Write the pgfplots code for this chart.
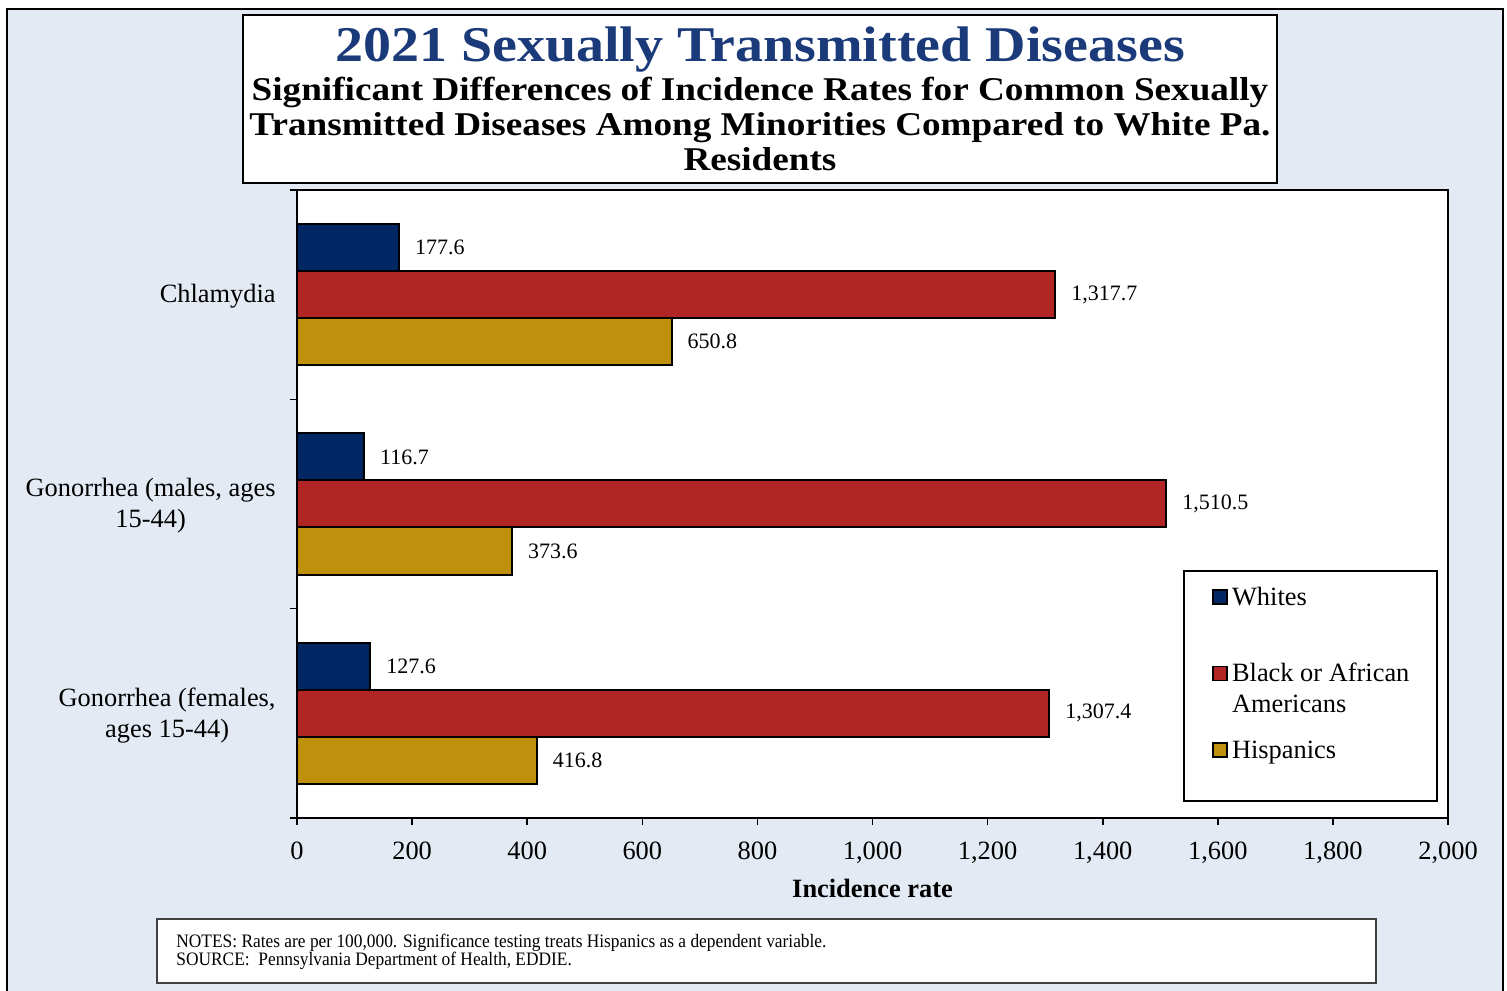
\documentclass[border=0pt]{standalone}
\usepackage{fontspec}
\setmainfont{Liberation Serif}
\newfontfamily\titlefont[FakeStretch=1.12]{Liberation Serif}
\newfontfamily\notefont[FakeStretch=0.914]{Liberation Serif}
\usepackage{pgfplots}
\pgfplotsset{compat=1.18}
\definecolor{bg}{HTML}{E4EAF4}
\definecolor{cwhite}{HTML}{002664}
\definecolor{cblack}{HTML}{B22525}
\definecolor{chisp}{HTML}{BF900B}
\definecolor{ctitle}{HTML}{1B3A7A}
\pgfplotsset{myleg/.style={legend image code/.code={\path (0pt,0pt) (7pt,0pt);\draw[##1,line width=0.8pt,overlay] (0pt,7.25pt) rectangle (7pt,14.25pt);}}}
\newcommand{\legtext}[1]{\raisebox{6.75pt}[10.5pt][16pt]{\parbox[t]{86.5pt}{#1}}}
\begin{document}
\begin{tikzpicture}
\useasboundingbox (0,0) rectangle (753.5pt,495pt);
\begin{scope}[x=0.5pt,y=-0.5pt,shift={(0pt,495pt)}]
\fill[bg] (7,9) rectangle (1503,1000);
\draw[line width=1.2pt] (7,1000) -- (7,9) -- (1503,9) -- (1503,1000);
\draw[fill=white, line width=1pt] (243,15) rectangle (1277,183);
\node[anchor=base, text=ctitle, font=\titlefont\bfseries\fontsize{25}{30}\selectfont, inner sep=0pt] at (760,62) {2021 Sexually Transmitted Diseases};
\node[anchor=base, font=\titlefont\bfseries\fontsize{16.6}{20}\selectfont, inner sep=0pt] at (760,101) {Significant Differences of Incidence Rates for Common Sexually};
\node[anchor=base, font=\titlefont\bfseries\fontsize{16.6}{20}\selectfont, inner sep=0pt] at (760,136) {Transmitted Diseases Among Minorities Compared to White Pa.};
\node[anchor=base, font=\titlefont\bfseries\fontsize{16.6}{20}\selectfont, inner sep=0pt] at (760,171) {Residents};
\draw[fill=white, draw=black!75, line width=0.8pt] (157,919) rectangle (1376,983);
\node[anchor=base west, font=\notefont\fontsize{9.5}{11}\selectfont, inner sep=0pt] at (176,947) {NOTES: Rates are per 100,000. Significance testing treats Hispanics as a dependent variable.};
\node[anchor=base west, font=\notefont\fontsize{9.5}{11}\selectfont, inner sep=0pt] at (176,965) {SOURCE:\ \ Pennsylvania Department of Health, EDDIE.};
\end{scope}
\begin{axis}[
  at={(148.5pt,86pt)}, anchor=south west,
  scale only axis, width=575.5pt, height=314pt,
  axis background/.style={fill=white},
  xbar=0pt, bar width=23.5pt,
  xmin=0, xmax=2000, ymin=-0.5, ymax=2.5,
  xtick={0,200,...,2000},
  ytick={0,1,2},
  yticklabels={{Gonorrhea (females,\\ages 15-44)},{Gonorrhea (males, ages\\15-44)},{Chlamydia}},
  minor ytick={-0.5,0.5,1.5,2.5},
  tick align=outside, major tick length=3.5pt, minor tick length=3.5pt,
  major y tick style={draw=none},
  tick style={black, line width=0.8pt},
  xtick pos=bottom, ytick pos=left,
  axis line style={black, line width=1pt},
  /pgf/number format/assume math mode=true,
  /pgf/number format/1000 sep={,},
  yticklabel style={align=center, font=\fontsize{13.2}{15.5}\selectfont, inner sep=0pt, xshift=-7pt, yshift=-1pt},
  xticklabel style={font=\fontsize{13.2}{15.5}\selectfont, anchor=base, inner sep=0pt, yshift=-17pt},
  xlabel={Incidence rate},
  xlabel style={font=\fontsize{13.2}{15.5}\selectfont\bfseries, at={(axis description cs:0.5,0)}, anchor=base, yshift=-39.5pt, inner sep=0pt},
  point meta=x,
  nodes near coords={\pgfmathprintnumber[fixed,fixed zerofill,precision=1]{\pgfplotspointmeta}},
  every node near coord/.append style={anchor=west, inner sep=0pt, xshift=7.5pt, font=\fontsize{11}{13}\selectfont, text=black},
  legend style={at={(0.7698,0.3949)}, anchor=north west, draw=black, line width=1pt, fill=white,
    inner xsep=14pt, inner ysep=11.25pt, row sep=22.25pt, column sep=0pt,
    font=\fontsize{13.2}{15.5}\selectfont,
    cells={anchor=base west, inner sep=0pt, minimum height=0pt, minimum width=0pt, draw=none, fill=none}},
]
\addplot[fill=cwhite, draw=black, line width=1pt, bar shift=23.5pt, myleg] coordinates {(177.6,2) (116.7,1) (127.6,0)};
\addlegendentry{\legtext{Whites}}
\addplot[fill=cblack, draw=black, line width=1pt, bar shift=0pt, myleg] coordinates {(1317.7,2) (1510.5,1) (1307.4,0)};
\addlegendentry{\legtext{\mbox{Black or African}\\Americans}}
\addplot[fill=chisp, draw=black, line width=1pt, bar shift=-23.5pt, myleg] coordinates {(650.8,2) (373.6,1) (416.8,0)};
\addlegendentry{\legtext{Hispanics}}
\end{axis}
\end{tikzpicture}
\end{document}
